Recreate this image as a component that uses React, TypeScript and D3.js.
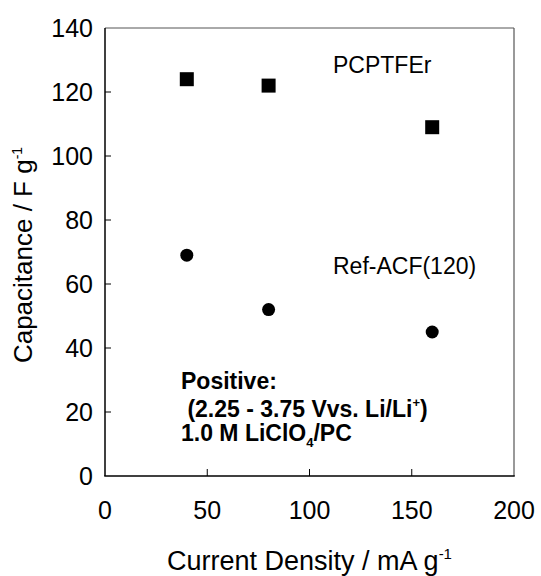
import React from 'react';
import * as d3 from 'd3';

// current density (mA/g) and specific capacitance (F/g)
const currentDensity = [40, 80, 160];
const pcptfer = [124, 122, 109];
const refAcf = [69, 52, 45];
const xTicks = [0, 50, 100, 150, 200];
const yTicks = [0, 20, 40, 60, 80, 100, 120, 140];

const W = 541;
const H = 576;
const font = '"Liberation Sans", Arial, sans-serif';

const App = () => {
  const x = d3.scaleLinear().domain([0, 200]).range([105, 514]);
  const y = d3.scaleLinear().domain([0, 140]).range([476, 28]);
  const sq = 14;

  return (
    <svg
      width={W}
      height={H}
      style={{ position: 'absolute', left: 0, top: 0, background: '#fff' }}
      fontFamily={font}
    >
      {/* frame */}
      <line x1={x(0)} x2={x(200)} y1={y(140)} y2={y(140)} stroke="#555" strokeWidth={1} />
      <line x1={x(200)} x2={x(200)} y1={y(140)} y2={y(0)} stroke="#555" strokeWidth={1.2} />
      <line x1={x(0)} x2={x(0)} y1={y(140)} y2={y(0)} stroke="#000" strokeWidth={1.5} />
      <line x1={x(0) - 0.75} x2={x(200) + 0.75} y1={y(0)} y2={y(0)} stroke="#000" strokeWidth={1.5} />

      {/* y ticks */}
      {yTicks.map((t) => (
        <g key={'y' + t}>
          {t > 0 && t < 140 && <line x1={x(0)} x2={x(0) + 6} y1={y(t)} y2={y(t)} stroke="#000" />}
          <text x={93} y={y(t)} dy="0.35em" textAnchor="end" fontSize={25}>
            {t}
          </text>
        </g>
      ))}

      {/* x ticks */}
      {xTicks.map((t) => (
        <g key={'x' + t}>
          {t > 0 && t < 200 && <line x1={x(t)} x2={x(t)} y1={y(0)} y2={y(0) - 7} stroke="#000" />}
          <text x={x(t)} y={519} textAnchor="middle" fontSize={25}>
            {t}
          </text>
        </g>
      ))}

      {/* axis titles */}
      <text x={(x(0) + x(200)) / 2} y={570} textAnchor="middle" fontSize={27}>
        Current Density / mA g
        <tspan fontSize={15} dy={-11}>-1</tspan>
      </text>
      <text
        transform={`translate(32,${(y(0) + y(140)) / 2 + 3}) rotate(-90)`}
        textAnchor="middle"
        fontSize={26}
      >
        Capacitance / F g
        <tspan fontSize={14} dy={-10}>-1</tspan>
      </text>

      {/* data */}
      {currentDensity.map((c, i) => (
        <rect key={'s' + i} x={x(c) - sq / 2} y={y(pcptfer[i]) - sq / 2} width={sq} height={sq} fill="#000" />
      ))}
      {currentDensity.map((c, i) => (
        <circle key={'c' + i} cx={x(c)} cy={y(refAcf[i])} r={6.5} fill="#000" />
      ))}

      {/* labels */}
      <text x={333} y={73} fontSize={23}>PCPTFEr</text>
      <text x={333} y={274} fontSize={23}>Ref-ACF(120)</text>

      <g fontWeight="bold" fontSize={23}>
        <text x={181} y={389}>Positive:</text>
        <text x={181} y={417} xmlSpace="preserve">
          {' (2.25 - 3.75 Vvs. Li/Li'}
          <tspan fontSize={13} dy={-10}>+</tspan>
          <tspan dy={10}>)</tspan>
        </text>
        <text x={181} y={441}>
          1.0 M LiClO
          <tspan fontSize={13} dy={6}>4</tspan>
          <tspan dy={-6}>/PC</tspan>
        </text>
      </g>
    </svg>
  );
};

export default App;
